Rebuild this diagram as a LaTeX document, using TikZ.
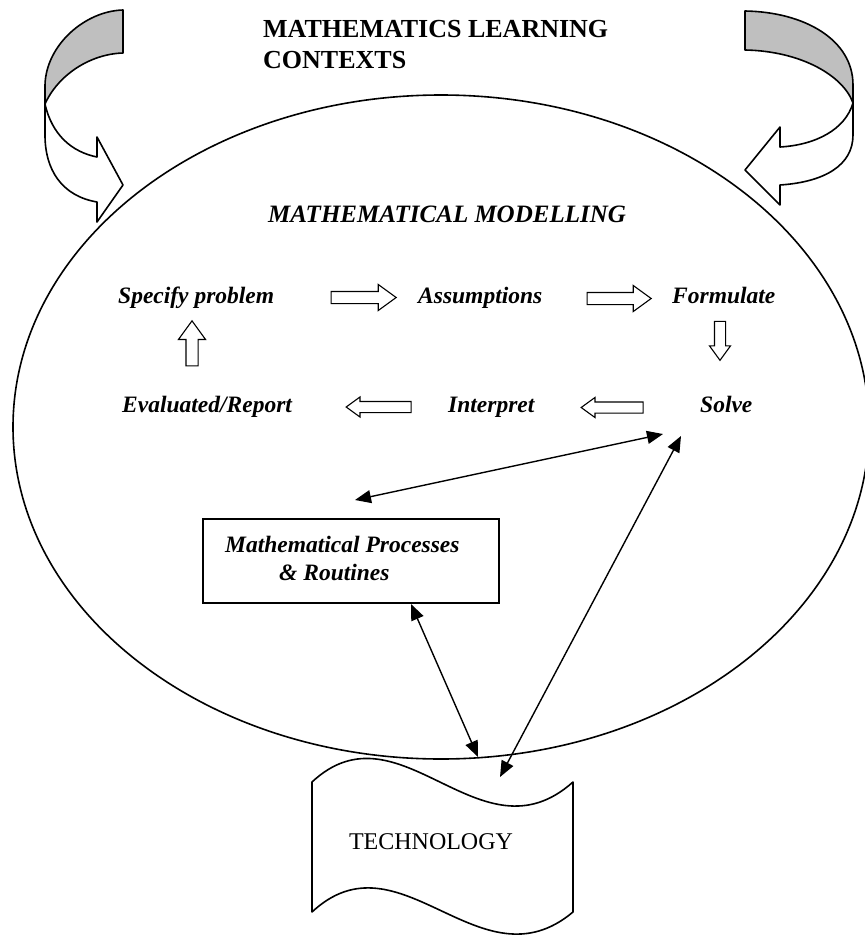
\documentclass[tikz,border=0pt]{standalone}
\usepackage{fontspec}
\setmainfont{Liberation Serif}
\usetikzlibrary{arrows.meta,shapes.arrows,shapes.geometric}
\begin{document}
\begin{tikzpicture}[x=1pt,y=-1pt,
  lbl/.style={font=\fontsize{23.5}{28}\selectfont\bfseries\itshape, inner sep=0pt, anchor=base west},
  ttl/.style={font=\fontsize{26}{31}\selectfont\bfseries, inner sep=0pt, anchor=base west},
  barrow/.style={single arrow, draw=black, line width=1.1pt, fill=white, inner sep=5.5pt,
     single arrow head extend=7pt, single arrow tip angle=72, minimum width=25pt},
  narrow/.style={barrow, inner sep=5pt, single arrow head extend=4.5pt, minimum width=19pt},
  dbl/.style={{Triangle[length=16pt,width=13pt]}-{Triangle[length=16pt,width=13pt]}, line width=1.4pt},
  outl/.style={line width=1.6pt, line join=round}
]
\useasboundingbox (0,0) rectangle (865,935);

% main ellipse
\node[ellipse, draw, line width=1.6pt, minimum width=856pt, minimum height=664pt, inner sep=0pt] (ell) at (441,427) {};

% curved arrows (left)
\draw[outl, fill=gray!50] (123,10) .. controls (85,11) and (46,45) .. (45,85) -- (45,104)
   .. controls (58,75) and (90,54) .. (123,53) -- cycle;
\draw[outl, fill=white] (45,104) .. controls (52,135) and (72,152) .. (97,157) -- (97,137) -- (123,185)
   -- (97,222) -- (97,202) .. controls (62,196) and (45,170) .. (45,135) -- cycle;
% curved arrows (right)
\draw[outl, fill=gray!50] (745,11) .. controls (805,12) and (853,40) .. (853,85) -- (853,103)
   .. controls (843,75) and (800,51) .. (745,50) -- cycle;
\draw[outl, fill=white] (853,103) .. controls (845,130) and (815,145) .. (780,147) -- (780,127) -- (745,170)
   -- (780,205) -- (780,185) .. controls (825,182) and (853,165) .. (853,135) -- cycle;

% titles
\node[ttl] (t1) at (263,37) {MATHEMATICS LEARNING};
\node[ttl] (t2) at (263,68) {CONTEXTS};
\node[lbl, font=\fontsize{25}{30}\selectfont\bfseries\itshape] (mm) at (268,222) {MATHEMATICAL MODELLING};

% cycle labels
\node[lbl] (sp) at (118,303) {Specify problem};
\node[lbl] (as) at (418,303) {Assumptions};
\node[lbl] (fo) at (672,303) {Formulate};
\node[lbl] (ev) at (122,412) {Evaluated/Report};
\node[lbl] (in) at (448,412) {Interpret};
\node[lbl] (so) at (700,412) {Solve};

% block arrows
\node[barrow, minimum height=65pt] (a1) at (359.5,297.5) {};
\node[barrow, minimum height=64pt] (a2) at (615,298.5) {};
\node[narrow, minimum height=39pt, minimum width=20pt, single arrow head extend=5pt, shape border rotate=270] (a3) at (720,337) {};
\node[narrow, minimum height=62pt, shape border rotate=180] (a4) at (616,407.5) {};
\node[narrow, minimum height=65pt, shape border rotate=180] (a5) at (382.5,407) {};
\node[barrow, minimum height=45pt, minimum width=26pt, single arrow head extend=7.5pt, shape border rotate=90] (a6) at (192,347.5) {};

% processes box
\node[draw, line width=1.2pt, minimum width=296pt, minimum height=84pt, inner sep=0pt] (mpr) at (351,561) {};
\node[lbl] (mp1) at (225,552) {Mathematical Processes};
\node[lbl] (mp2) at (279,580) {\& Routines};

% technology banner
\draw[outl, fill=white] (312,782) .. controls (400,700) and (480,865) .. (573,782) -- (573,912)
   .. controls (480,990) and (400,830) .. (312,912) -- cycle;
\node[font=\fontsize{24}{28}\selectfont, inner sep=0pt] (tech) at (431,842) {TECHNOLOGY};

% double arrows
\coordinate (pA1) at (355,500); \coordinate (pA2) at (663,434);
\coordinate (pB1) at (681,436); \coordinate (pB2) at (500,777);
\coordinate (pC1) at (411,604); \coordinate (pC2) at (478,757);
\draw[dbl] (pA1) -- (pA2);
\draw[dbl] (pB1) -- (pB2);
\draw[dbl] (pC1) -- (pC2);
\end{tikzpicture}
\end{document}
